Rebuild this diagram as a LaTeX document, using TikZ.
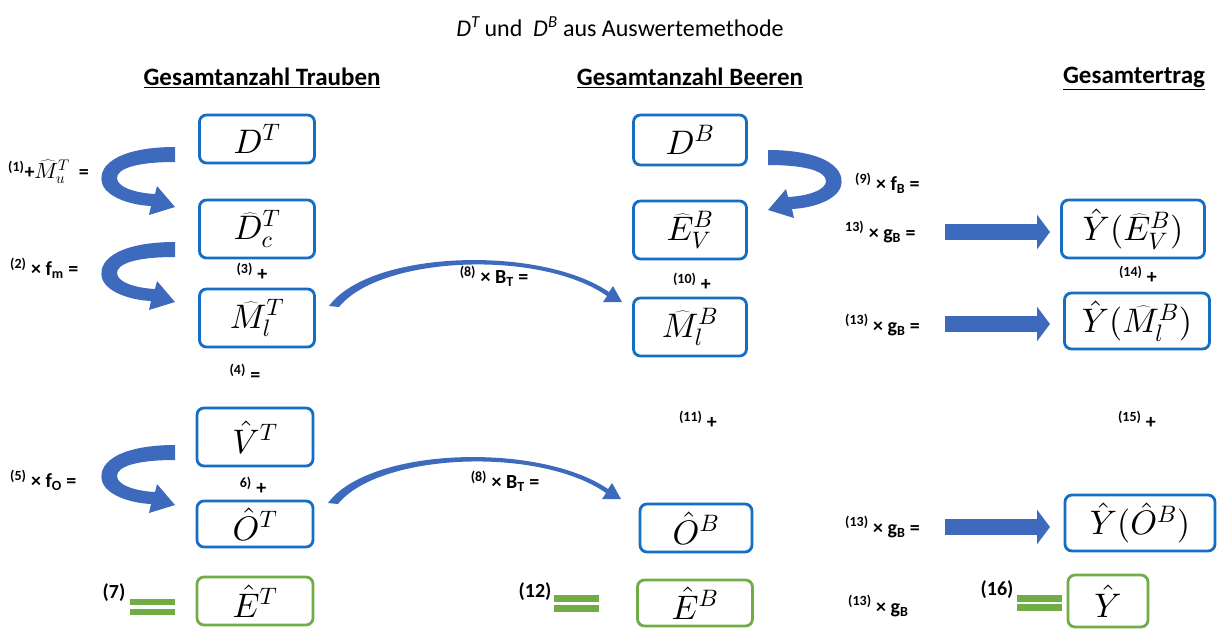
\documentclass[tikz,border=0pt]{standalone}
\usepackage{fontspec}
\setmainfont{Carlito}
\DeclareFontShape{OML}{cmm}{m}{it}{<-8>cmmi7 <8->cmmi10}{}
\DeclareFontShape{OT1}{cmr}{m}{n}{<-8>cmr7 <8->cmr10}{}
\DeclareFontShape{OMS}{cmsy}{m}{n}{<-8>cmsy7 <8->cmsy10}{}
\usetikzlibrary{arrows.meta}
\definecolor{boxblue}{RGB}{21,110,196}
\definecolor{arrblue}{RGB}{62,106,190}
\definecolor{grn}{RGB}{112,173,71}
\tikzset{
 bx/.style={draw=boxblue, line width=2.8pt, rounded corners=7pt, inner sep=0pt, font=\fontsize{34}{38}\selectfont},
 gbx/.style={bx, draw=grn},
 lab/.style={font=\fontsize{20}{22}\selectfont\bfseries, inner sep=0pt},
 hd/.style={font=\fontsize{25}{28}\selectfont\bfseries, inner sep=0pt},
 blk/.style={line width=16pt, draw=arrblue, -{Triangle[width=34pt,length=13pt]}},
 eqbar/.style={fill=grn, draw=none},
 uturn/.pic={\fill[arrblue] (0,0) .. controls (-50,0) and (-78,15) .. (-73,36) .. controls (-69,50) and (-45,58) .. (-24,59) -- (-26,68) -- (0,60) -- (-18,39) -- (-20,47) .. controls (-40,46) and (-58,40) .. (-58,31) .. controls (-58,22) and (-40,15) .. (0,15) -- cycle;},
 arcarrow/.pic={\fill[arrblue] (-1,0) .. controls (40,-56) and (210,-61) .. (279,-14) -- (283,-20) -- (292,-4) -- (273,-4) -- (277,-10) .. controls (210,-57) and (50,-50) .. (9,1) -- cycle;},
}
\begin{document}
\begin{tikzpicture}[x=1pt,y=-1pt]
\useasboundingbox (0,0) rectangle (1219,629);
% title and headers
\node[font=\fontsize{24}{26}\selectfont, inner sep=0pt] (title) at (620,27) {\textit{D}\textsuperscript{\textit{T}}\,und \ \textit{D}\textsuperscript{\textit{B}} aus Auswertemethode};
\node[hd] (h1) at (262,78) {\underline{Gesamtanzahl Trauben}};
\node[hd] (h2) at (690,78) {\underline{Gesamtanzahl Beeren}};
\node[hd] (h3) at (1134,78) {\underline{Gesamtertrag}};
% left column
\node[bx, minimum width=115pt, minimum height=48pt] (dT) at (257,139) {$D^T$};
\node[bx, minimum width=115pt, minimum height=58pt] (dcT) at (257,229) {$\widehat{D}^T_c$};
\node[bx, minimum width=115pt, minimum height=58pt] (mlT) at (257,318) {$\widehat{M}^T_l$};
\node[bx, minimum width=116pt, minimum height=58pt] (vT) at (255,437) {$\hat{V}^T$};
\node[bx, minimum width=116pt, minimum height=46pt] (oT) at (255,524) {$\hat{O}^T$};
\node[gbx, minimum width=116pt, minimum height=48pt] (eT) at (255,601) {$\hat{E}^T$};
% middle column
\node[bx, minimum width=113pt, minimum height=50pt] (dB) at (690,140) {$D^B$};
\node[bx, minimum width=113pt, minimum height=58pt] (evB) at (690,230) {$\widehat{E}^B_V$};
\node[bx, minimum width=113pt, minimum height=58pt] (mlB) at (690,327) {$\widehat{M}^B_l$};
\node[bx, minimum width=112pt, minimum height=48pt] (oB) at (696,528) {$\hat{O}^B$};
\node[gbx, minimum width=115pt, minimum height=46pt] (eB) at (695,603) {$\hat{E}^B$};
% right column
\node[bx, minimum width=143pt, minimum height=58pt] (yev) at (1133,229) {$\hat{Y}(\widehat{E}^B_V)$};
\node[bx, minimum width=145pt, minimum height=56pt] (yml) at (1137,321) {$\hat{Y}(\widehat{M}^B_l)$};
\node[bx, minimum width=150pt, minimum height=56pt] (yo) at (1140,523) {$\hat{Y}(\hat{O}^B)$};
\node[gbx, minimum width=80pt, minimum height=52pt] (yy) at (1108,601) {$\hat{Y}$};
% labels
\node[lab, anchor=west] (l1) at (8,172) {\textsuperscript{(1)}+{\fontsize{22}{24}\selectfont$\widehat{M}^T_u$} \ =};
\node[lab, anchor=west] (l2) at (10,268) {\textsuperscript{(2)} × f\textsubscript{m} =};
\node[lab] (l3) at (252,272) {\textsuperscript{(3)} +};
\node[lab] (l4) at (245,373) {\textsuperscript{(4)} =};
\node[lab, anchor=west] (l5) at (10,480) {\textsuperscript{(5)} × f\textsubscript{O} =};
\node[lab] (l6) at (253,486) {\textsuperscript{6)} +};
\node[lab] (l7) at (114,593) {(7)};
\node[lab] (l8a) at (494,276) {\textsuperscript{(8)} × B\textsubscript{T} =};
\node[lab] (l8b) at (505,481) {\textsuperscript{(8)} × B\textsubscript{T} =};
\node[lab, anchor=west] (l9) at (855,183) {\textsuperscript{(9)} × f\textsubscript{B} =};
\node[lab] (l10) at (692,282) {\textsuperscript{(10)} +};
\node[lab] (l11) at (698,420) {\textsuperscript{(11)} +};
\node[lab] (l12) at (535,592) {(12)};
\node[lab, anchor=west] (l13a) at (845,232) {\textsuperscript{13)} × g\textsubscript{B} =};
\node[lab, anchor=west] (l13b) at (845,325) {\textsuperscript{(13)} × g\textsubscript{B} =};
\node[lab, anchor=west] (l13c) at (845,527) {\textsuperscript{(13)} × g\textsubscript{B} =};
\node[lab, anchor=west] (l13d) at (848,606) {\textsuperscript{(13)} × g\textsubscript{B}};
\node[lab] (l14) at (1138,275) {\textsuperscript{(14)} +};
\node[lab] (l15) at (1137,420) {\textsuperscript{(15)} +};
\node[lab] (l16) at (997,590) {(16)};
% u-turn arrows
\pic at (175,147) {uturn};
\pic at (175,242) {uturn};
\pic at (175,445) {uturn};
\pic[xscale=-1] at (768,150) {uturn};
% arcs
\pic at (330,306) {arcarrow};
\pic at (329,503) {arcarrow};
% block arrows
\coordinate (s1) at (945,232); \coordinate (e1) at (1050,232);
\coordinate (s2) at (945,324); \coordinate (e2) at (1050,324);
\coordinate (s3) at (945,527); \coordinate (e3) at (1050,527);
\draw[blk] (s1) -- (e1);
\draw[blk] (s2) -- (e2);
\draw[blk] (s3) -- (e3);
% equal signs
\fill[eqbar] (130,599) rectangle (175,605);
\fill[eqbar] (130,609) rectangle (175,615);
\fill[eqbar] (554,595) rectangle (599,602);
\fill[eqbar] (554,605) rectangle (599,612);
\fill[eqbar] (1017,595) rectangle (1062,602);
\fill[eqbar] (1017,604) rectangle (1062,611);
\end{tikzpicture}
\end{document}
